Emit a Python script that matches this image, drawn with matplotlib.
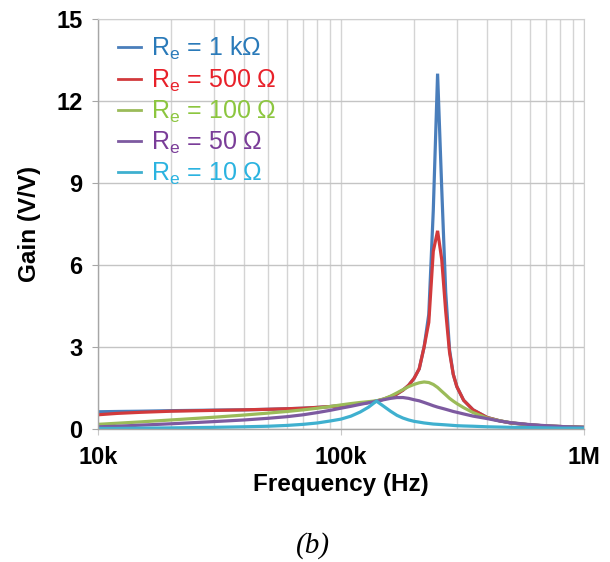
import numpy as np
import matplotlib.pyplot as plt
from matplotlib.ticker import FixedLocator, LogLocator, NullFormatter

plt.rcParams['font.family'] = ['Liberation Sans', 'DejaVu Sans']

# frequency points (kHz)
freq_khz = [10, 12, 15, 20, 30, 40, 50, 60, 70, 80, 90, 100, 110, 120, 130, 140,
            150, 160, 170, 180, 190, 200, 210, 220, 230, 240, 250, 260, 270, 280,
            290, 300, 320, 350, 400, 450, 500, 600, 700, 800, 1000]

gain_1k = [0.63, 0.64, 0.65, 0.67, 0.69, 0.70, 0.72, 0.74, 0.76, 0.79, 0.82, 0.85,
           0.89, 0.93, 0.97, 1.02, 1.09, 1.18, 1.28, 1.42, 1.60, 1.85, 2.2, 3.0,
           4.2, 8.0, 13.0, 8.8, 5.0, 2.9, 2.0, 1.55, 1.05, 0.7, 0.42, 0.3, 0.22,
           0.15, 0.11, 0.09, 0.06]
gain_500 = [0.52, 0.57, 0.61, 0.65, 0.68, 0.70, 0.72, 0.74, 0.76, 0.79, 0.82, 0.85,
            0.89, 0.93, 0.97, 1.02, 1.09, 1.18, 1.28, 1.42, 1.60, 1.85, 2.2, 3.0,
            3.9, 6.5, 7.25, 6.2, 4.3, 2.8, 2.0, 1.55, 1.05, 0.7, 0.42, 0.3, 0.22,
            0.15, 0.11, 0.09, 0.06]
gain_100 = [0.17, 0.21, 0.26, 0.33, 0.43, 0.51, 0.58, 0.64, 0.70, 0.76, 0.82, 0.88,
            0.93, 0.97, 1.00, 1.03, 1.10, 1.20, 1.32, 1.44, 1.55, 1.63, 1.69, 1.72,
            1.70, 1.63, 1.52, 1.38, 1.25, 1.12, 1.02, 0.93, 0.78, 0.60, 0.40, 0.30,
            0.23, 0.15, 0.11, 0.09, 0.06]
gain_50 = [0.08, 0.10, 0.14, 0.19, 0.27, 0.33, 0.39, 0.45, 0.52, 0.60, 0.68, 0.76,
           0.83, 0.90, 0.96, 1.01, 1.07, 1.12, 1.15, 1.15, 1.12, 1.07, 1.03, 0.97,
           0.91, 0.85, 0.80, 0.76, 0.72, 0.68, 0.64, 0.61, 0.55, 0.47, 0.38, 0.29,
           0.23, 0.16, 0.12, 0.09, 0.06]
gain_10 = [0.02, 0.02, 0.03, 0.04, 0.06, 0.08, 0.10, 0.13, 0.17, 0.22, 0.29, 0.36,
           0.47, 0.62, 0.80, 1.02, 0.83, 0.65, 0.50, 0.40, 0.33, 0.28, 0.25, 0.22,
           0.20, 0.18, 0.17, 0.16, 0.15, 0.14, 0.13, 0.12, 0.11, 0.10, 0.08, 0.07,
           0.06, 0.05, 0.04, 0.03, 0.03]

labels = ['R$_\\mathregular{e}$ = 1 kΩ', 'R$_\\mathregular{e}$ = 500 Ω',
          'R$_\\mathregular{e}$ = 100 Ω', 'R$_\\mathregular{e}$ = 50 Ω',
          'R$_\\mathregular{e}$ = 10 Ω']
line_colors = ['#4a7ebb', '#d23a3c', '#9bbb59', '#7d5aa0', '#3fb0cf']
text_colors = ['#2a7ab9', '#e8212a', '#8cc63f', '#7a3d98', '#2bb3e0']

f = np.array(freq_khz) * 1e3
series = [gain_1k, gain_500, gain_100, gain_50, gain_10]

fig = plt.figure(figsize=(6.1, 5.62), dpi=100)
ax = fig.add_axes([0.1607, 0.2367, 0.7964, 0.7295])

for g, c, lab in zip(series, line_colors, labels):
    ax.plot(f, g, color=c, lw=2.3, label=lab, solid_joinstyle='miter')

ax.set_xscale('log')
ax.set_xlim(1e4, 1e6)
ax.set_ylim(0, 15)
ax.set_yticks([0, 3, 6, 9, 12, 15])
ax.xaxis.set_major_locator(FixedLocator([1e4, 1e5, 1e6]))
ax.set_xticklabels(['10k', '100k', '1M'])
ax.xaxis.set_minor_locator(LogLocator(base=10, subs=np.arange(2, 10)))
ax.xaxis.set_minor_formatter(NullFormatter())

ax.grid(True, which='major', axis='y', color='#c4c4c4', lw=1.0)
ax.grid(True, which='both', axis='x', color='#d4d4d4', lw=1.0)
ax.set_axisbelow(True)

for s in ['top', 'right']:
    ax.spines[s].set_color('#cfcfcf')
for s in ['left', 'bottom']:
    ax.spines[s].set_color('#a6a6a6')
    ax.spines[s].set_linewidth(1.0)

ax.tick_params(axis='y', which='major', length=4, color='#a6a6a6', pad=7,
               labelsize=17)
ax.tick_params(axis='x', which='major', length=4, color='#c8c8c8', pad=8,
               labelsize=17)
ax.tick_params(axis='x', which='minor', length=0)
for t in ax.get_xticklabels() + ax.get_yticklabels():
    t.set_fontweight('bold')

ax.set_ylabel('Gain (V/V)', fontsize=17.5, fontweight='bold', labelpad=11)
ax.set_xlabel('Frequency (Hz)', fontsize=17.5, fontweight='bold', labelpad=3)

leg = ax.legend(loc='upper left', bbox_to_anchor=(0.02, 0.985), frameon=False,
                fontsize=18, handlelength=0.95, handletextpad=0.4,
                labelspacing=0.2, borderaxespad=0)
for txt, c in zip(leg.get_texts(), text_colors):
    txt.set_color(c)
for h in leg.legend_handles:
    h.set_linewidth(2.0)

fig.text(0.513, 0.03, '(b)', fontsize=21, style='italic',
         family='Liberation Serif', ha='center', va='center')

fig.savefig('out.png', dpi=100)
